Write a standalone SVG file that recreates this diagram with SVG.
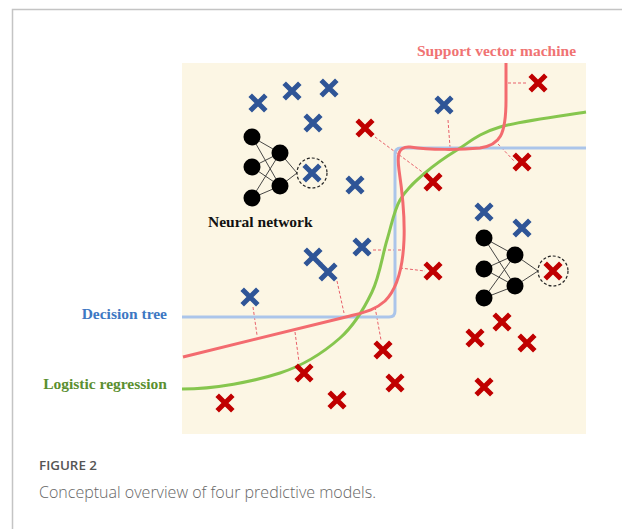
<svg xmlns="http://www.w3.org/2000/svg" xmlns:xlink="http://www.w3.org/1999/xlink" width="622" height="529" viewBox="0 0 622 529">
<style>
.lbl{font-family:"Liberation Serif","Times New Roman",serif;font-weight:bold;font-size:15.5px}
.bx{stroke:#2f5597;stroke-width:5;fill:none}
.rx{stroke:#c00000;stroke-width:5;fill:none}
.dash{stroke:#e8606a;stroke-width:1;stroke-dasharray:3 2;fill:none}
.nnl{stroke:#333;stroke-width:0.9;fill:none}
.cap{font-family:"Open Sans","Noto Sans","Liberation Sans",sans-serif}
</style>
<defs>
<path id="x" d="M-7.8,-7.8L7.8,7.8M7.8,-7.8L-7.8,7.8"/>
</defs>
<rect x="0" y="0" width="622" height="529" fill="#ffffff"/>
<path d="M12.5,529V9.5H622" fill="none" stroke="#c4c4c4" stroke-width="1.5"/>
<rect x="182" y="63" width="404" height="371" fill="#fcf6e4"/>

<g id="connectors">
<path class="dash" d="M508,83H528"/>
<path class="dash" d="M448,120L450,147"/>
<path class="dash" d="M498,144L515,162"/>
<path class="dash" d="M375,137L425,174"/>
<path class="dash" d="M373,250H402"/>
<path class="dash" d="M400,268L425,271"/>
<path class="dash" d="M337,281L344,313"/>
<path class="dash" d="M253,307L257,335"/>
<path class="dash" d="M295,332L299,362"/>
<path class="dash" d="M375,307L381,340"/>
</g>

<g id="decision-tree-boundary">
<path d="M182,317H389Q395,317 395,311V154Q395,148 401,148H586" fill="none" stroke="#abc5ea" stroke-width="3"/>
</g>
<g id="logistic-boundary">
<path d="M182,389C215,389 253.7,381.5 280,373C306.3,364.5 324.7,351.5 340,338C355.3,324.5 364.2,308.3 372,292C379.8,275.7 382.3,255.3 387,240C391.7,224.7 393.7,211.2 400,200C406.3,188.8 415.5,181.3 425,173C434.5,164.7 444.5,157.7 457,150C469.5,142.3 478.5,133.3 500,127C521.5,120.7 571.7,114.5 586,112" fill="none" stroke="#86c64e" stroke-width="3"/>
</g>
<g id="svm-boundary">
<path d="M506,63L506,100C506,135 500,145 480,148C460,150 430,150 410,147C398,146 397,155 399,170C402,190 405,215 404,240C403,265 398,288 385,301C375,310 365,312 350,316L183,357" fill="none" stroke="#f36b6f" stroke-width="3"/>
</g>

<g id="blue-points" class="bx">
<use xlink:href="#x" x="258" y="103"/>
<use xlink:href="#x" x="292" y="91"/>
<use xlink:href="#x" x="329" y="88"/>
<use xlink:href="#x" x="313" y="123"/>
<use xlink:href="#x" x="355" y="185"/>
<use xlink:href="#x" x="444" y="105"/>
<use xlink:href="#x" x="362" y="247"/>
<use xlink:href="#x" x="313" y="257"/>
<use xlink:href="#x" x="328" y="272"/>
<use xlink:href="#x" x="250" y="297"/>
<use xlink:href="#x" x="484" y="212"/>
<use xlink:href="#x" x="522" y="228"/>
</g>
<g id="red-points" class="rx">
<use xlink:href="#x" x="365" y="128"/>
<use xlink:href="#x" x="538" y="83"/>
<use xlink:href="#x" x="522" y="162"/>
<use xlink:href="#x" x="433" y="182"/>
<use xlink:href="#x" x="433" y="271"/>
<use xlink:href="#x" x="502" y="322"/>
<use xlink:href="#x" x="475" y="338"/>
<use xlink:href="#x" x="527" y="343"/>
<use xlink:href="#x" x="383" y="350"/>
<use xlink:href="#x" x="395" y="383"/>
<use xlink:href="#x" x="304" y="373"/>
<use xlink:href="#x" x="337" y="400"/>
<use xlink:href="#x" x="225" y="403"/>
<use xlink:href="#x" x="484" y="387"/>
</g>

<g id="nn-left">
<path class="nnl" d="M252,137L280,153M252,137L280,186M252,167L280,153M252,167L280,186M252,198L280,153M252,198L280,186M280,153L297,173M280,186L297,173"/>
<circle cx="252" cy="137" r="8.5"/>
<circle cx="252" cy="167" r="8.5"/>
<circle cx="252" cy="198" r="8.5"/>
<circle cx="280" cy="153" r="8.5"/>
<circle cx="280" cy="186" r="8.5"/>
<circle cx="312" cy="173" r="15" fill="none" stroke="#222" stroke-width="1.2" stroke-dasharray="3 2"/>
<use class="bx" xlink:href="#x" x="312" y="173"/>
</g>
<g id="nn-right">
<path class="nnl" d="M484,238L515,255M484,238L515,286M484,269L515,255M484,269L515,286M484,298L515,255M484,298L515,286M515,255L538,271M515,286L538,271"/>
<circle cx="484" cy="238" r="8.5"/>
<circle cx="484" cy="269" r="8.5"/>
<circle cx="484" cy="298" r="8.5"/>
<circle cx="515" cy="255" r="8.5"/>
<circle cx="515" cy="286" r="8.5"/>
<circle cx="553" cy="271" r="15" fill="none" stroke="#222" stroke-width="1.2" stroke-dasharray="3 2"/>
<use class="rx" xlink:href="#x" x="553" y="271"/>
</g>

<g id="labels">
<text class="lbl" x="417" y="56" fill="#f07373">Support vector machine</text>
<text class="lbl" x="167" y="319" fill="#3d78c3" text-anchor="end">Decision tree</text>
<text class="lbl" x="167" y="389" fill="#5b8f30" text-anchor="end">Logistic regression</text>
<text class="lbl" x="208" y="227" fill="#111">Neural network</text>
</g>

<g id="caption">
<text class="cap" x="39" y="470" font-size="13" font-weight="600" fill="#555" textLength="58" lengthAdjust="spacingAndGlyphs">FIGURE 2</text>
<text class="cap" x="39" y="498" font-size="17" font-weight="300" fill="#666" textLength="337" lengthAdjust="spacingAndGlyphs">Conceptual overview of four predictive models.</text>
</g>
</svg>
